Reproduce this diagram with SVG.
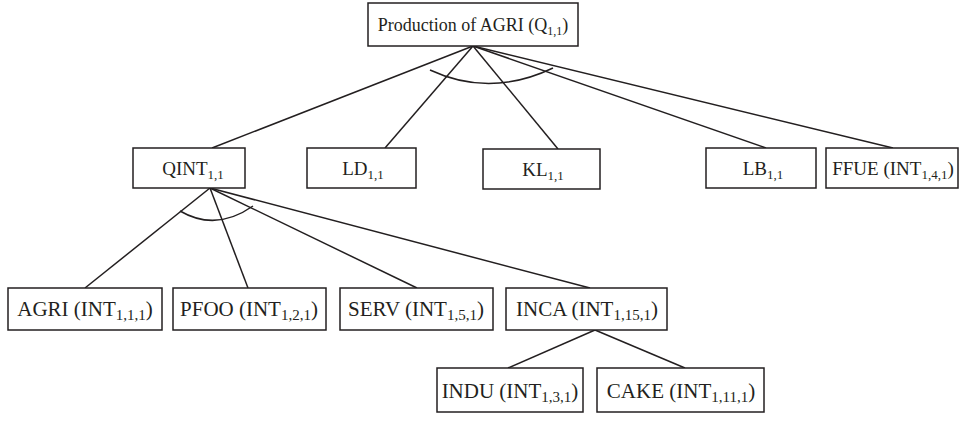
<svg xmlns="http://www.w3.org/2000/svg" width="970" height="431" viewBox="0 0 970 431">
<style>
rect{fill:#fff;stroke:#231f20;stroke-width:1.5}
.c line,.c path{stroke:#231f20;stroke-width:1.5;fill:none}
text{font-family:"Liberation Serif","Times New Roman",serif;font-size:18px;fill:#231f20;text-anchor:middle}
.s{font-size:12px}
.r2{font-size:19px}
.r2 .s{font-size:13px}
.r3{font-size:21px}
.r3 .s{font-size:15px}
</style>
<g class="c" id="connectors">
<line x1="473" y1="46" x2="212" y2="148"/>
<line x1="473" y1="46" x2="385" y2="148"/>
<line x1="473" y1="46" x2="558" y2="149"/>
<line x1="473" y1="46" x2="766" y2="148"/>
<line x1="473" y1="46" x2="893" y2="148"/>
<path d="M430 70 Q490 98 553 68"/>
<line x1="210" y1="188" x2="85" y2="288"/>
<line x1="210" y1="188" x2="248" y2="288"/>
<line x1="210" y1="188" x2="417" y2="288"/>
<line x1="210" y1="188" x2="590" y2="288"/>
<path d="M180 211 Q216 232 253 206"/>
<line x1="595" y1="330" x2="508" y2="368"/>
<line x1="595" y1="330" x2="685" y2="368"/>
</g>
<g id="n-q"><rect x="368" y="3" width="210" height="43"/><text x="473" y="31">Production of AGRI (Q<tspan class="s" dy="4">1,1</tspan><tspan dy="-4">)</tspan></text></g>
<g id="n-qint"><rect x="133" y="148" width="112" height="40"/><text class="r2" x="193" y="175">QINT<tspan class="s" dy="4">1,1</tspan></text></g>
<g id="n-ld"><rect x="307" y="148" width="109" height="40"/><text class="r2" x="363" y="175">LD<tspan class="s" dy="4">1,1</tspan></text></g>
<g id="n-kl"><rect x="483" y="149" width="117" height="40"/><text class="r2" x="543" y="176">KL<tspan class="s" dy="4">1,1</tspan></text></g>
<g id="n-lb"><rect x="706" y="148" width="110" height="40"/><text class="r2" x="763" y="175">LB<tspan class="s" dy="4">1,1</tspan></text></g>
<g id="n-ffue"><rect x="826" y="148" width="132" height="40"/><text class="r2" x="893" y="175">FFUE (INT<tspan class="s" dy="4">1,4,1</tspan><tspan dy="-4">)</tspan></text></g>
<g id="n-agri"><rect x="8" y="288" width="154" height="42"/><text class="r3" x="85" y="316">AGRI (INT<tspan class="s" dy="4">1,1,1</tspan><tspan dy="-4">)</tspan></text></g>
<g id="n-pfoo"><rect x="173" y="288" width="153" height="42"/><text class="r3" x="249" y="316">PFOO (INT<tspan class="s" dy="4">1,2,1</tspan><tspan dy="-4">)</tspan></text></g>
<g id="n-serv"><rect x="340" y="288" width="153" height="42"/><text class="r3" x="416" y="316">SERV (INT<tspan class="s" dy="4">1,5,1</tspan><tspan dy="-4">)</tspan></text></g>
<g id="n-inca"><rect x="506" y="288" width="161" height="42"/><text class="r3" x="587" y="316">INCA (INT<tspan class="s" dy="4">1,15,1</tspan><tspan dy="-4">)</tspan></text></g>
<g id="n-indu"><rect x="437" y="368" width="146" height="44"/><text class="r3" x="510" y="398">INDU (INT<tspan class="s" dy="4">1,3,1</tspan><tspan dy="-4">)</tspan></text></g>
<g id="n-cake"><rect x="597" y="368" width="167" height="44"/><text class="r3" x="681" y="398">CAKE (INT<tspan class="s" dy="4">1,11,1</tspan><tspan dy="-4">)</tspan></text></g>
</svg>
